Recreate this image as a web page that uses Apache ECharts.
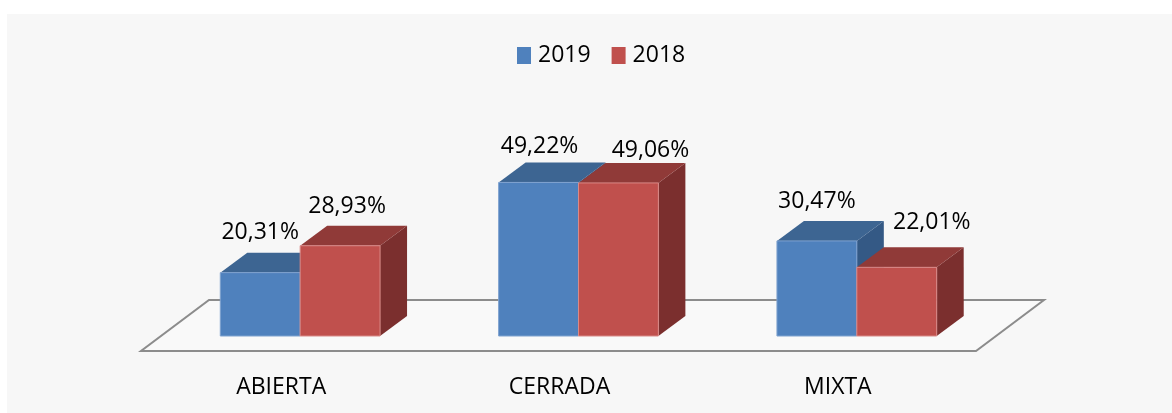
<!DOCTYPE html>
<html>
<head>
<meta charset="utf-8">
<script src="https://cdn.jsdelivr.net/npm/echarts@6/dist/echarts.min.js"></script>
<style>
  html, body { margin: 0; padding: 0; background: #fff; }
  #main { width: 1172px; height: 413px; }
</style>
</head>
<body>
<div id="main"></div>
<script>
// datos
var categorias = ['ABIERTA', 'CERRADA', 'MIXTA'];
var valores2019 = [20.31, 49.22, 30.47];
var valores2018 = [28.93, 49.06, 22.01];

// desplazamiento de etiquetas (px) respecto al centro de la cara frontal / arista trasera superior
var ajuste2019 = [[0, -20], [1, -16], [0, -19]];
var ajuste2018 = [[7, -19], [32, -12], [35, -25]];

var FUENTE = '"Open Sans", sans-serif';
var DX = 27, DY = 20; // profundidad de las barras

function fmt(v) {
    return v.toFixed(2).replace('.', ',') + '%';
}

function serieBarra(nombre, valores, slot, colores, ajuste) {
    return {
        name: nombre,
        type: 'custom',
        itemStyle: { color: colores.front },
        encode: { x: 0, y: 1 },
        data: valores.map(function (v, i) { return [i, v]; }),
        z: 3 + slot,
        renderItem: function (params, api) {
            var i = api.value(0);
            var base = api.coord([i, 0]);
            var top = api.coord([i, api.value(1)]);
            var band = api.size([1, 0])[0];
            var bw = band * 0.287;
            var x0 = base[0] + (slot - 1) * bw;
            var x1 = x0 + bw;
            var yb = base[1], yt = top[1];
            var aj = ajuste[params.dataIndex];
            return {
                type: 'group',
                children: [
                    {
                        type: 'polygon',
                        shape: { points: [[x1, yt], [x1 + DX, yt - DY], [x1 + DX, yb - DY], [x1, yb]] },
                        style: { fill: colores.side }
                    },
                    {
                        type: 'polygon',
                        shape: { points: [[x0, yt], [x0 + DX, yt - DY], [x1 + DX, yt - DY], [x1, yt]] },
                        style: { fill: colores.top }
                    },
                    {
                        type: 'rect',
                        shape: { x: x0, y: yt, width: bw, height: yb - yt },
                        style: { fill: colores.front, stroke: colores.edge, lineWidth: 1 }
                    },
                    {
                        type: 'text',
                        x: (x0 + x1) / 2 + aj[0],
                        y: yt - DY + aj[1],
                        style: {
                            text: fmt(api.value(1)),
                            fill: '#000',
                            font: '23px ' + FUENTE,
                            align: 'center',
                            verticalAlign: 'middle'
                        }
                    }
                ]
            };
        }
    };
}

var myChart = echarts.init(document.getElementById('main'));

var option = {
    backgroundColor: '#ffffff',
    animation: false,
    graphic: [{
        type: 'rect',
        shape: { x: 7, y: 14, width: 1165, height: 399 },
        style: { fill: '#f7f7f7' },
        z: -10
    }],
    legend: {
        top: 39,
        left: 512,
        itemWidth: 14,
        itemHeight: 17,
        itemGap: 21,
        icon: 'rect',
        data: ['2019', '2018'],
        textStyle: { fontSize: 23, fontFamily: FUENTE, color: '#000', padding: [0, 0, 0, 2] }
    },
    grid: { left: 161, right: 176, top: 180, bottom: 77 },
    xAxis: {
        type: 'category',
        data: categorias,
        axisLine: { show: false },
        axisTick: { show: false },
        splitLine: { show: false },
        axisLabel: {
            margin: 40,
            fontSize: 23,
            fontFamily: FUENTE,
            color: '#000',
            padding: [0, 38, 0, 0]
        }
    },
    yAxis: {
        type: 'value',
        min: 0,
        max: 50,
        show: false
    },
    series: [
        {
            name: 'suelo',
            type: 'custom',
            data: [[0, 0]],
            z: 1,
            silent: true,
            renderItem: function (params, api) {
                var cs = params.coordSys;
                var L = cs.x, R = cs.x + cs.width, yb = cs.y + cs.height;
                return {
                    type: 'polygon',
                    shape: {
                        points: [[L - 20, yb + 15], [R - 20, yb + 15], [R + 48, yb - 36], [L + 48, yb - 36]]
                    },
                    style: { fill: '#f9f9f9', stroke: '#8c8c8c', lineWidth: 2 }
                };
            }
        },
        serieBarra('2019', valores2019, 0,
            { front: '#4f81bd', top: '#3d6592', side: '#345985', edge: '#7fa2cf' }, ajuste2019),
        serieBarra('2018', valores2018, 1,
            { front: '#c0504d', top: '#903a38', side: '#7b2f2e', edge: '#d98a88' }, ajuste2018)
    ]
};

myChart.setOption(option);
</script>
</body>
</html>
